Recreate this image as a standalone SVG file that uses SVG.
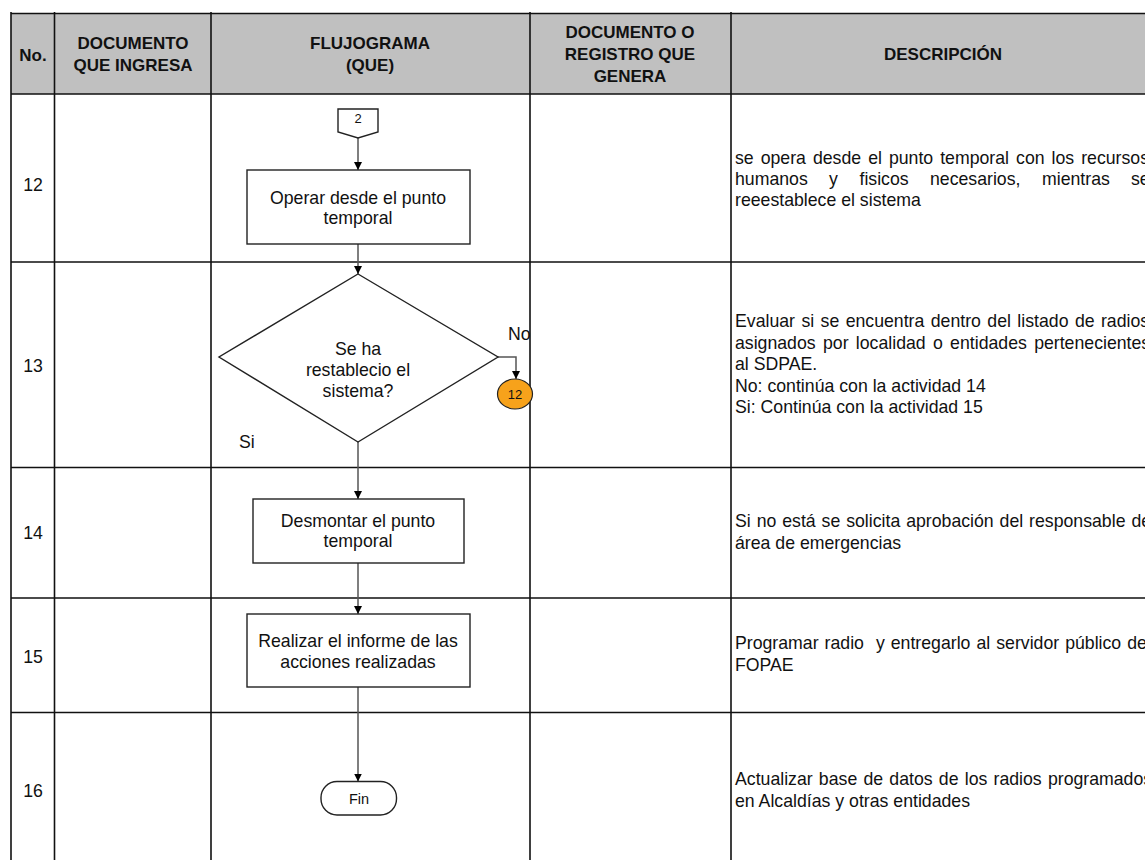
<svg xmlns="http://www.w3.org/2000/svg" width="1145" height="860" viewBox="0 0 1145 860">
<style>
.hd{font-family:"Liberation Sans",Arial,sans-serif;font-size:17px;font-weight:bold;fill:#111;text-anchor:middle}
.tx{font-family:"Liberation Sans",Arial,sans-serif;font-size:17.7px;fill:#111}
.c{text-anchor:middle}
.sm{font-family:"Liberation Sans",Arial,sans-serif;font-size:13px;fill:#111;text-anchor:middle}
.grid{stroke:#111;stroke-width:1.6;fill:none}
.shape{fill:#fff;stroke:#222;stroke-width:1.4}
.flow{stroke:#555;stroke-width:1.5;fill:none}
</style>
<defs>
<marker id="ah" viewBox="0 0 10 10" refX="10" refY="5" markerWidth="8" markerHeight="8" markerUnits="userSpaceOnUse" orient="auto">
<path d="M0,0 L10,5 L0,10 z" fill="#000"/>
</marker>
</defs>
<rect width="1145" height="860" fill="#fff"/>
<rect x="11" y="14" width="1140" height="80" fill="#c0c0c0"/>
<g id="labels">
<text class="tx" x="508" y="340">No</text>
<text class="tx" x="239" y="448">Si</text>
</g>
<g id="table">
<path class="grid" d="M11,13.5 H1145 M11,94 H1145 M11,262 H1145 M11,467.5 H1145 M11,598 H1145 M11,712.5 H1145 M11,12 V860 M54.5,12 V860 M211,12 V860 M530,12 V860 M731,12 V860"/>
<text class="hd" x="33" y="61">No.</text>
<text class="hd" x="133" y="49">DOCUMENTO</text>
<text class="hd" x="133" y="71">QUE INGRESA</text>
<text class="hd" x="370" y="49">FLUJOGRAMA</text>
<text class="hd" x="370" y="71">(QUE)</text>
<text class="hd" x="630" y="38">DOCUMENTO O</text>
<text class="hd" x="630" y="60">REGISTRO QUE</text>
<text class="hd" x="630" y="82">GENERA</text>
<text class="hd" x="943" y="60">DESCRIPCIÓN</text>
<text class="tx c" x="33" y="191">12</text>
<text class="tx c" x="33" y="372">13</text>
<text class="tx c" x="33" y="539">14</text>
<text class="tx c" x="33" y="663">15</text>
<text class="tx c" x="33" y="797">16</text>
</g>
<g id="desc">
<text class="tx" x="735" y="164" word-spacing="2.1">se opera desde el punto temporal con los recursos</text>
<text class="tx" y="185"><tspan x="735">humanos</tspan><tspan x="829">y</tspan><tspan x="859.5">fisicos</tspan><tspan x="930">necesarios,</tspan><tspan x="1042">mientras</tspan><tspan x="1131">se</tspan></text>
<text class="tx" x="735" y="206">reeestablece el sistema</text>
<text class="tx" x="735" y="327" word-spacing="1.5">Evaluar si se encuentra dentro del listado de radios</text>
<text class="tx" x="735" y="348.5" word-spacing="2.4">asignados por localidad o entidades pertenecientes</text>
<text class="tx" x="735" y="370">al SDPAE.</text>
<text class="tx" x="735" y="391.5">No: continúa con la actividad 14</text>
<text class="tx" x="735" y="413">Si: Continúa con la actividad 15</text>
<text class="tx" x="735" y="527" word-spacing="1">Si no está se solicita aprobación del responsable de</text>
<text class="tx" x="735" y="549">área de emergencias</text>
<text class="tx" x="735" y="649" xml:space="preserve" word-spacing="1.1">Programar radio  y entregarlo al servidor público de</text>
<text class="tx" x="735" y="671">FOPAE</text>
<text class="tx" x="735" y="785" word-spacing="1.3">Actualizar base de datos de los radios programados</text>
<text class="tx" x="735" y="807">en Alcaldías y otras entidades</text>
</g>
<g id="connectors">
<path class="flow" d="M358,138 V170" marker-end="url(#ah)"/>
<path class="flow" d="M358,244 V274" marker-end="url(#ah)"/>
<path class="flow" d="M498,357 H516 V379" marker-end="url(#ah)"/>
<path class="flow" d="M358,442 V499" marker-end="url(#ah)"/>
<path class="flow" d="M358,563 V614" marker-end="url(#ah)"/>
<path class="flow" d="M358,687 V781.5" marker-end="url(#ah)"/>
</g>
<g id="n_conn2">
<path class="shape" d="M338,109 H378 V132 L358,138 L338,132 Z"/>
<text class="sm" x="358" y="123">2</text>
</g>
<g id="n12">
<rect class="shape" x="247" y="170" width="223" height="74"/>
<text class="tx c" x="358" y="204">Operar desde el punto</text>
<text class="tx c" x="358" y="224">temporal</text>
</g>
<g id="n13">
<path class="shape" d="M358,274 L498,357 L358,442 L219,357 Z"/>
<text class="tx c" x="358" y="355">Se ha</text>
<text class="tx c" x="358" y="376">restablecio el</text>
<text class="tx c" x="358" y="397">sistema?</text>
</g>
<g id="n_conn12">
<ellipse cx="515" cy="394" rx="17.5" ry="15" fill="#f7a21b" stroke="#222" stroke-width="1.2"/>
<text class="sm" x="515" y="398.5">12</text>
</g>
<g id="n14">
<rect class="shape" x="253" y="499" width="211" height="64"/>
<text class="tx c" x="358" y="527">Desmontar el punto</text>
<text class="tx c" x="358" y="547">temporal</text>
</g>
<g id="n15">
<rect class="shape" x="247" y="614" width="223" height="73"/>
<text class="tx c" x="358" y="647">Realizar el informe de las</text>
<text class="tx c" x="358" y="668">acciones realizadas</text>
</g>
<g id="n16">
<rect class="shape" x="321" y="781.5" width="75.5" height="33.5" rx="16" ry="16"/>
<text class="sm" x="359" y="804" style="font-size:14.5px">Fin</text>
</g>
</svg>
